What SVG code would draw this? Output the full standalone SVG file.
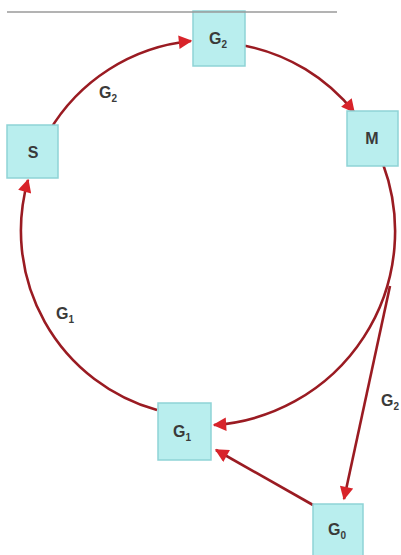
<svg xmlns="http://www.w3.org/2000/svg" width="401" height="555" viewBox="0 0 401 555">
<defs>
<style>
.node rect{fill:#b9eeee;stroke:#8fd3d6;stroke-width:1.5}
.node text,.lbl{font-family:"Liberation Sans",Arial,sans-serif;font-weight:bold;fill:#3a3a3a;text-anchor:middle}
.node text{font-size:16px}
.lbl{font-size:16px}
.sub{font-size:10px}
.conn path,.conn line{fill:none;stroke:#9a1b22;stroke-width:2.6;marker-end:url(#ah)}
</style>
<marker id="ah" viewBox="0 0 10 10" refX="9" refY="5" markerWidth="6" markerHeight="5.2" orient="auto" markerUnits="strokeWidth">
<path d="M0,0 L10,5 L0,10 Z" fill="#d8232a"/>
</marker>
</defs>
<rect width="401" height="555" fill="#ffffff"/>
<g id="connectors" class="conn">
<path d="M48.6,132.2 A186,186 0 0 1 191,41"/>
<path d="M245,45.7 A186,186 0 0 1 354,112"/>
<path d="M383,164 A194,194 0 0 1 214,425"/>
<path d="M157,410 A186,186 0 0 1 28,180"/>
<line x1="390" y1="286" x2="344" y2="499"/>
<line x1="313" y1="505" x2="216" y2="450"/>
</g>
<g id="node-G2top" class="node">
<rect x="193" y="11" width="52" height="55"/>
<text x="218" y="44">G<tspan class="sub" dy="4">2</tspan></text>
</g>
<line x1="7" y1="12" x2="337" y2="12" stroke="#9a9a9a" stroke-width="1.6"/>
<g id="node-S" class="node">
<rect x="7" y="125" width="51" height="53"/>
<text x="33" y="158">S</text>
</g>
<g id="node-M" class="node">
<rect x="347" y="111" width="51" height="55"/>
<text x="372" y="144">M</text>
</g>
<g id="node-G1" class="node">
<rect x="158" y="403" width="53" height="57"/>
<text x="182" y="437">G<tspan class="sub" dy="4">1</tspan></text>
</g>
<g id="node-G0" class="node">
<rect x="313" y="504" width="50" height="56"/>
<text x="337" y="535">G<tspan class="sub" dy="4">0</tspan></text>
</g>
<g id="labels">
<text class="lbl" x="108" y="98">G<tspan class="sub" dy="4">2</tspan></text>
<text class="lbl" x="65" y="319">G<tspan class="sub" dy="4">1</tspan></text>
<text class="lbl" x="390" y="406">G<tspan class="sub" dy="4">2</tspan></text>
</g>
</svg>
